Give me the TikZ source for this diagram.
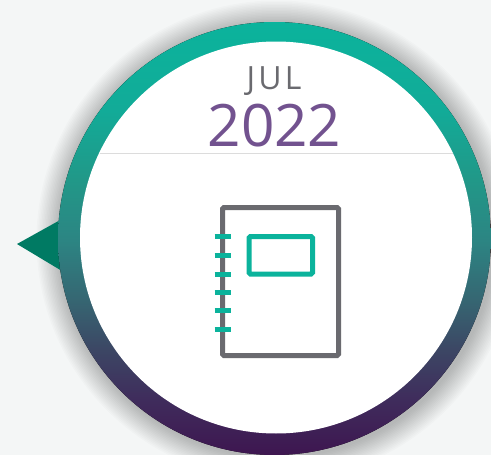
\documentclass[tikz,border=0pt]{standalone}
\usepackage{fontspec}
\setmainfont{Open Sans}
\definecolor{bgc}{HTML}{F4F6F6}
\definecolor{tealc}{HTML}{0BB39C}
\definecolor{greyc}{HTML}{6A6A6F}
\definecolor{purplec}{HTML}{72528F}
\definecolor{arrowc}{HTML}{007A63}
\definecolor{rulec}{HTML}{DCDCDC}
\definecolor{ringa}{HTML}{3E1650}
\definecolor{ringb}{HTML}{3F2C5C}
\definecolor{ringc}{HTML}{3C4664}
\definecolor{ringd}{HTML}{366672}
\definecolor{ringe}{HTML}{2C8583}
\definecolor{ringf}{HTML}{219888}
\definecolor{ringg}{HTML}{12AB98}
\definecolor{ringh}{HTML}{0BB39C}
\pgfdeclareverticalshading{ringshade}{100bp}{
  color(0bp)=(ringa);
  color(25bp)=(ringa);
  color(31.4bp)=(ringb);
  color(37.1bp)=(ringc);
  color(42.9bp)=(ringd);
  color(49.8bp)=(ringe);
  color(56.8bp)=(ringf);
  color(64.8bp)=(ringg);
  color(75bp)=(ringh);
  color(100bp)=(ringh)}
\tikzset{
  coverline/.style={line width=5pt,draw=greyc,rounded corners=1.5pt},
  tealline/.style={line width=5pt,draw=tealc},
}
\begin{document}
\begin{tikzpicture}[x=1pt,y=-1pt]
\useasboundingbox (0,0) rectangle (491,455);
\fill[bgc] (0,0) rectangle (491,455);
\begin{scope}
\clip (0,0) rectangle (491,455);
\foreach \r in {240,238.5,...,217}{
  \fill[black,opacity=0.014] (276.5,240.5) circle[radius=\r];
}
\fill[arrowc] (17,244) -- (62,219) -- (62,271) -- cycle;
\fill[shading=ringshade] (274.5,238.5) circle[radius=216.5];
\fill[white] (276,237.5) circle[radius=196];
\end{scope}
\coordinate (ruleL) at (100,153.5);
\coordinate (ruleR) at (453,153.5);
\draw[rulec,line width=1pt] (ruleL) -- (ruleR);
\node[text=greyc,font=\fontsize{32}{32}\selectfont,anchor=base,inner sep=0pt] (month) at (274,89) {\addfontfeature{LetterSpace=10}JUL};
\node[text=purplec,font=\fontsize{58.5}{58.5}\selectfont,anchor=base,inner sep=0pt] (year) at (274.5,146) {2022};
\draw[coverline] (222.5,207.5) rectangle (338.5,355.5);
\draw[tealline,rounded corners=1.5pt] (249,236.5) rectangle (312.5,274);
\foreach \y in {236.7,255.3,274,292.3,310.7,329.3}{
  \draw[tealline] (214.5,\y) -- (230.5,\y);
}
\end{tikzpicture}
\end{document}
